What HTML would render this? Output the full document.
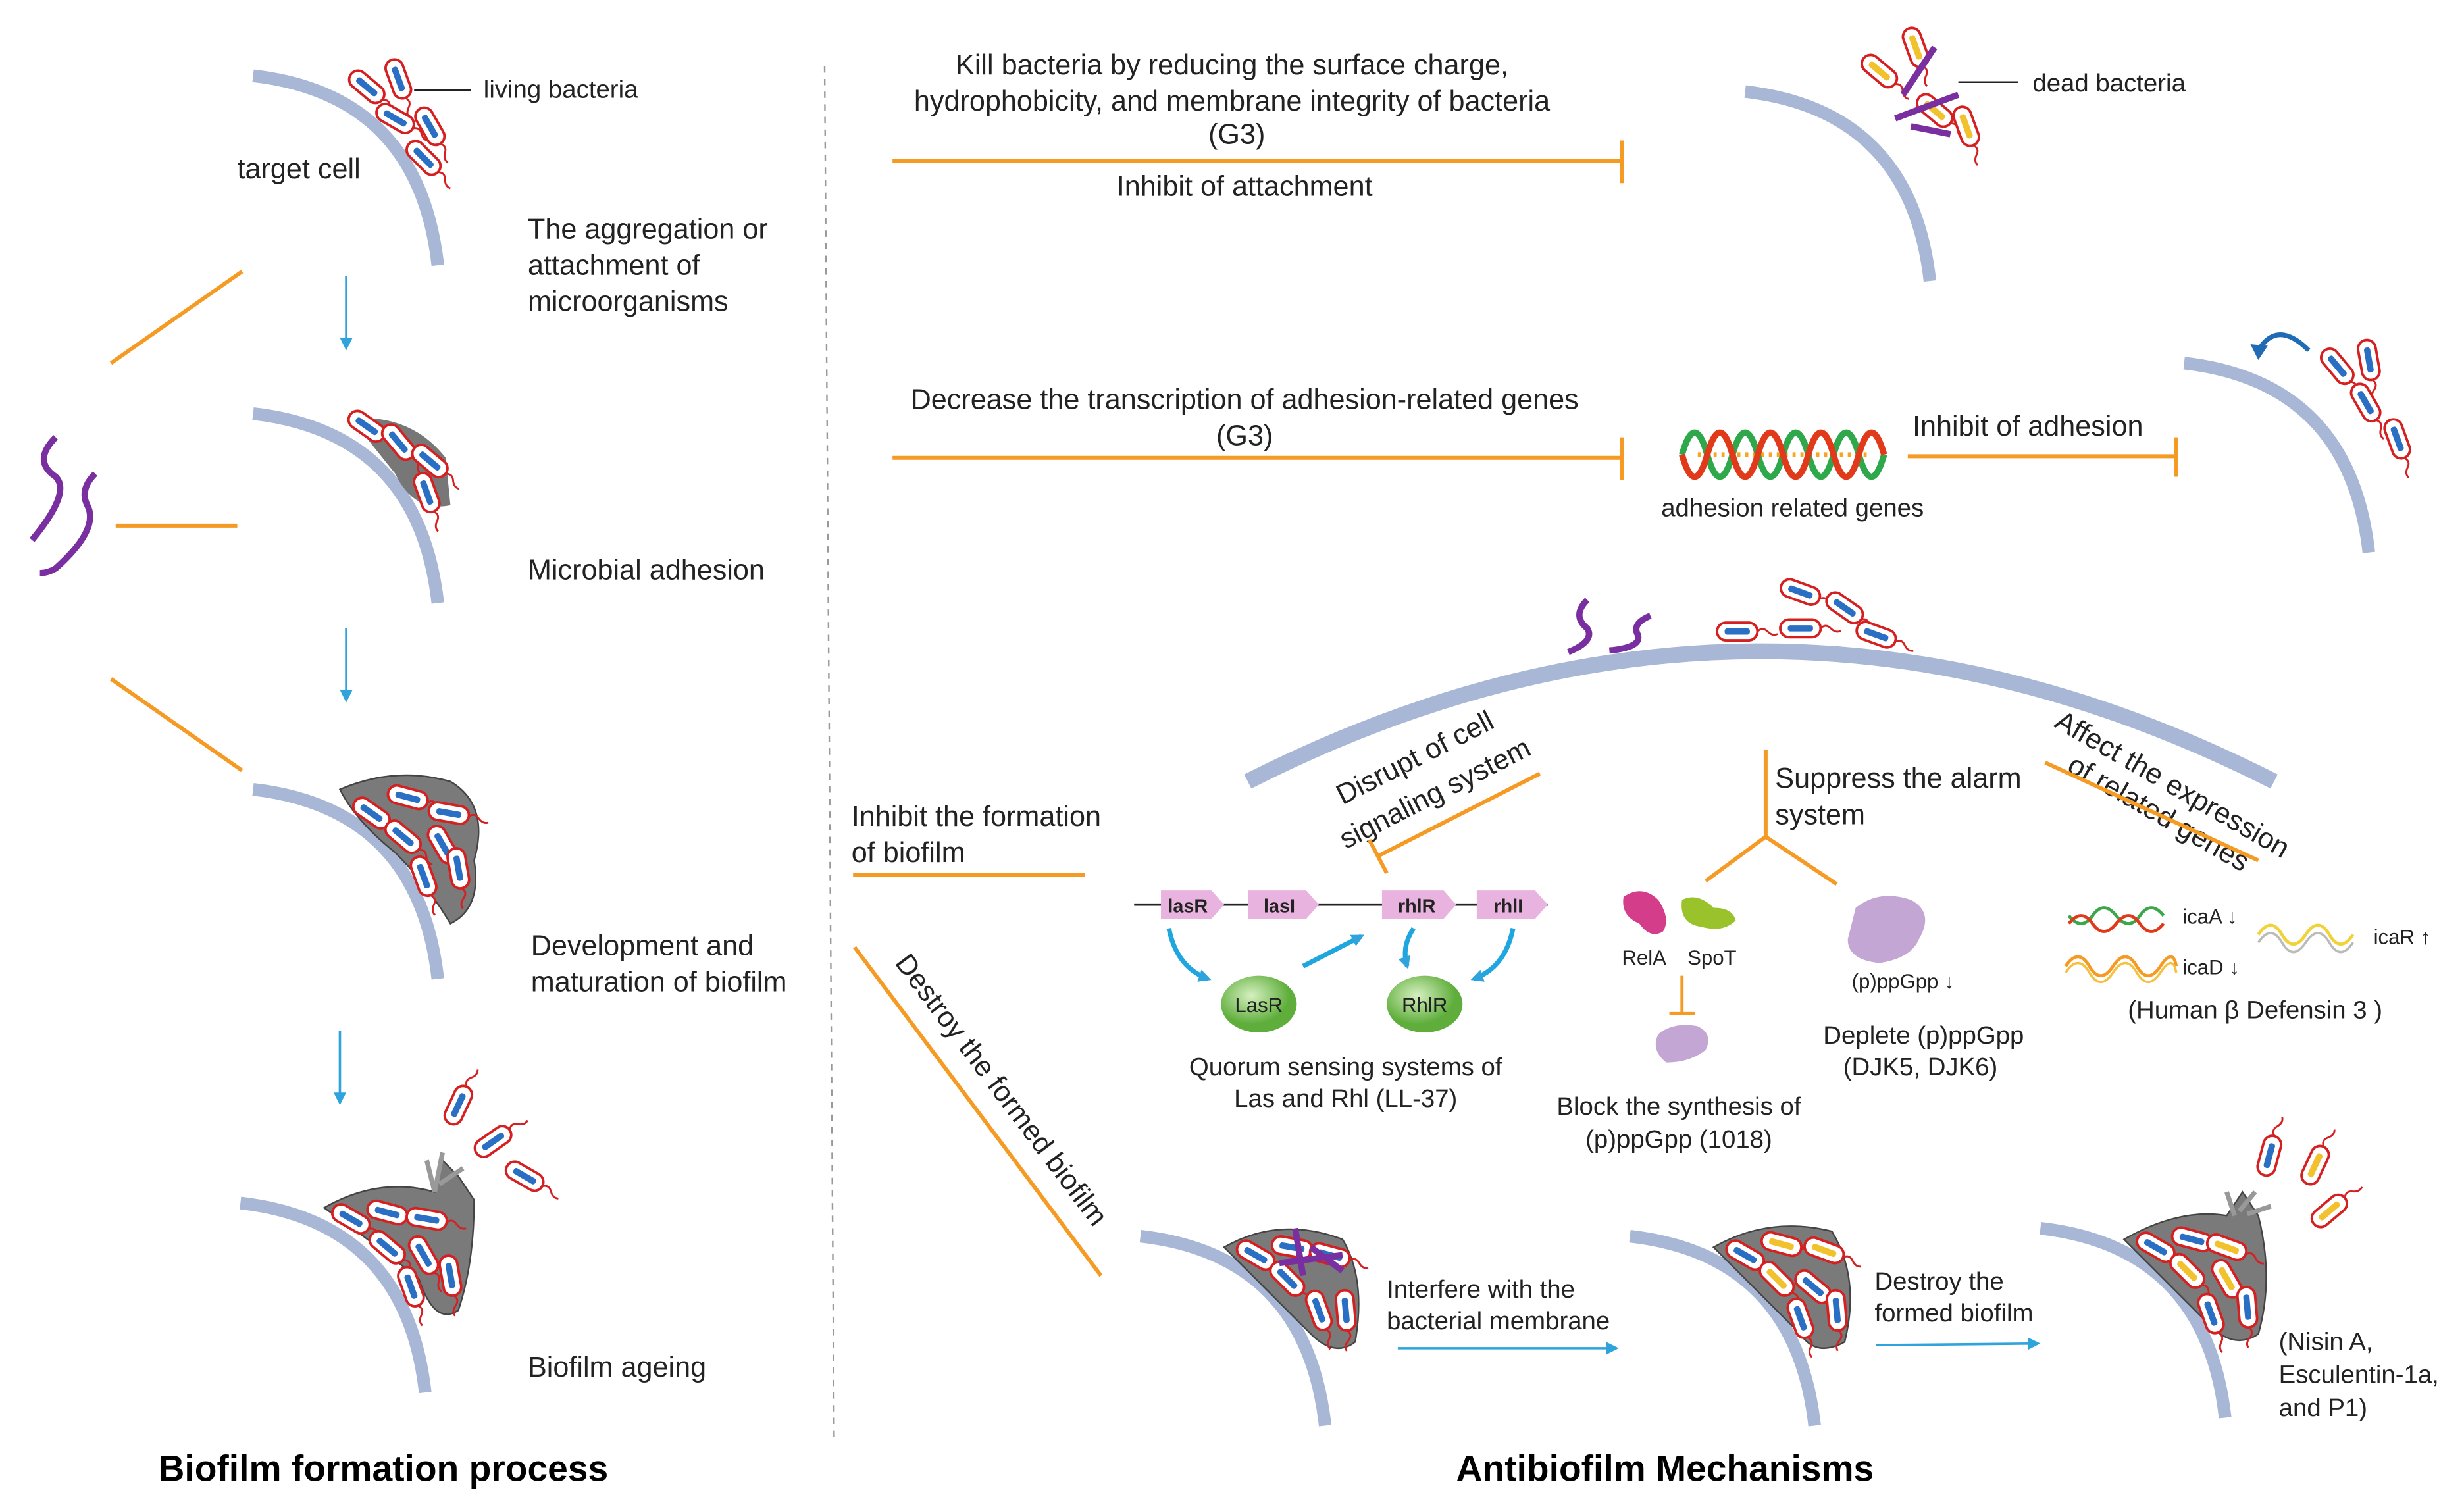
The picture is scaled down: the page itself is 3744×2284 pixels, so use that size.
<!DOCTYPE html>
<html><head><meta charset="utf-8">
<style>
html,body{margin:0;padding:0;background:#fff;}
svg{display:block;}
text{font-family:"Liberation Sans",Arial,sans-serif;fill:#222;}
</style></head>
<body>
<svg width="3744" height="2284" viewBox="0 0 1560 952" xmlns="http://www.w3.org/2000/svg">
<defs>
  <g id="bac"><g transform="scale(0.8)">
    <rect x="-16" y="-7" width="32" height="14" rx="7" fill="#fff" stroke="#d42020" stroke-width="2"/>
    <rect x="-10" y="-2.5" width="20" height="5" rx="2" fill="#2a6fc4"/>
    <path d="M16,0 q4,-4 8,0 t8,2" fill="none" stroke="#d42020" stroke-width="1.5"/>
  </g></g>
  <g id="bacy"><g transform="scale(0.8)">
    <rect x="-16" y="-7" width="32" height="14" rx="7" fill="#fff" stroke="#d42020" stroke-width="2"/>
    <rect x="-10" y="-2.5" width="20" height="5" rx="2" fill="#f2c12e"/>
    <path d="M16,0 q4,-4 8,0 t8,2" fill="none" stroke="#d42020" stroke-width="1.5"/>
  </g></g>
  <g id="arc">
    <path d="M0,0 Q105,12 117,120" fill="none" stroke="#a8b7d5" stroke-width="8"/>
  </g>
  <marker id="ab" markerWidth="8" markerHeight="8" refX="6" refY="4" orient="auto" markerUnits="userSpaceOnUse">
    <path d="M0,0 L8,4 L0,8 z" fill="#2ea3dc"/>
  </marker>
  <radialGradient id="gg" cx="40%" cy="35%"><stop offset="0" stop-color="#d6f0c0"/><stop offset="1" stop-color="#5fae3c"/></radialGradient>
</defs>

<line x1="522" y1="42" x2="528" y2="912" stroke="#999" stroke-width="1" stroke-dasharray="4,4"/>

<!-- LEFT column -->
<use href="#arc" x="160" y="48"/>
<use href="#bac" transform="translate(232,55) rotate(40)"/>
<use href="#bac" transform="translate(252,50) rotate(70)"/>
<use href="#bac" transform="translate(250,75) rotate(30)"/>
<use href="#bac" transform="translate(272,80) rotate(60)"/>
<use href="#bac" transform="translate(268,100) rotate(45)"/>
<line x1="262" y1="57" x2="298" y2="57" stroke="#222" stroke-width="1"/>
<text x="306" y="62" font-size="16">living  bacteria</text>
<text x="150" y="113" font-size="18">target cell</text>
<text x="334" y="151" font-size="18">The aggregation  or</text>
<text x="334" y="174" font-size="18">attachment of</text>
<text x="334" y="197" font-size="18">microorganisms</text>
<line x1="219" y1="175" x2="219" y2="220" stroke="#2ea3dc" stroke-width="1.5" marker-end="url(#ab)"/>

<use href="#arc" x="160" y="262"/>
<path d="M222,265 Q260,262 282,290 L285,320 Q262,325 250,300 Z" fill="#777"/>
<use href="#bac" transform="translate(232,270) rotate(35)"/>
<use href="#bac" transform="translate(252,280) rotate(50)"/>
<use href="#bac" transform="translate(272,292) rotate(40)"/>
<use href="#bac" transform="translate(270,312) rotate(70)"/>
<text x="334" y="367" font-size="18">Microbial adhesion</text>
<line x1="219" y1="398" x2="219" y2="443" stroke="#2ea3dc" stroke-width="1.5" marker-end="url(#ab)"/>

<use href="#arc" x="160" y="500"/>
<path d="M215,500 Q250,485 285,495 Q310,510 300,545 Q305,575 285,585 Q270,560 250,540 Q225,520 215,500 Z" fill="#7a7a7a" stroke="#444" stroke-width="1"/>
<use href="#bac" transform="translate(235,515) rotate(35)"/>
<use href="#bac" transform="translate(258,505) rotate(15)"/>
<use href="#bac" transform="translate(284,515) rotate(10)"/>
<use href="#bac" transform="translate(255,530) rotate(40)"/>
<use href="#bac" transform="translate(280,535) rotate(60)"/>
<use href="#bac" transform="translate(268,555) rotate(70)"/>
<use href="#bac" transform="translate(290,550) rotate(80)"/>
<text x="336" y="605" font-size="18">Development and</text>
<text x="336" y="628" font-size="18">maturation of biofilm</text>
<line x1="215" y1="653" x2="215" y2="698" stroke="#2ea3dc" stroke-width="1.5" marker-end="url(#ab)"/>

<use href="#arc" x="152" y="762"/>
<path d="M205,765 Q240,745 275,755 L280,735 L290,745 L300,760 Q300,800 290,830 Q275,840 265,810 Q240,790 205,765 Z" fill="#7a7a7a" stroke="#444" stroke-width="1"/>
<path d="M275,755 l-5,-20 m5,20 l5,-25 m-2,20 l15,-10" stroke="#999" stroke-width="3" fill="none"/>
<use href="#bac" transform="translate(222,772) rotate(30)"/>
<use href="#bac" transform="translate(245,768) rotate(15)"/>
<use href="#bac" transform="translate(270,772) rotate(10)"/>
<use href="#bac" transform="translate(245,790) rotate(40)"/>
<use href="#bac" transform="translate(268,795) rotate(60)"/>
<use href="#bac" transform="translate(260,815) rotate(70)"/>
<use href="#bac" transform="translate(285,808) rotate(80)"/>
<use href="#bac" transform="translate(290,700) rotate(-65)"/>
<use href="#bac" transform="translate(312,723) rotate(-35)"/>
<use href="#bac" transform="translate(332,745) rotate(30)"/>
<text x="334" y="872" font-size="18">Biofilm ageing</text>
<text x="100" y="938" font-size="23" font-weight="bold" style="fill:#000">Biofilm formation process</text>

<line x1="70" y1="230" x2="153" y2="172" stroke="#f59a23" stroke-width="2.5"/>
<line x1="73" y1="333" x2="150" y2="333" stroke="#f59a23" stroke-width="2.5"/>
<line x1="70" y1="430" x2="153" y2="488" stroke="#f59a23" stroke-width="2.5"/>
<path d="M35,277 q-15,15 0,25 q10,10 -15,40" fill="none" stroke="#7a2fa0" stroke-width="4"/>
<path d="M60,300 q-10,10 -5,20 q8,15 -20,40 q-5,3 -10,3" fill="none" stroke="#7a2fa0" stroke-width="4"/>

<!-- RIGHT row 1 -->
<text x="780" y="47" font-size="18" text-anchor="middle">Kill bacteria by reducing the surface charge,</text>
<text x="780" y="70" font-size="18" text-anchor="middle">hydrophobicity,  and membrane integrity of bacteria</text>
<text x="783" y="91" font-size="18" text-anchor="middle">(G3)</text>
<line x1="565" y1="102" x2="1027" y2="102" stroke="#f59a23" stroke-width="2.5"/>
<line x1="1027" y1="89" x2="1027" y2="116" stroke="#f59a23" stroke-width="2.5"/>
<text x="788" y="124" font-size="18" text-anchor="middle">Inhibit  of attachment</text>
<use href="#arc" x="1105" y="58"/>
<use href="#bacy" transform="translate(1190,45) rotate(40)"/>
<use href="#bacy" transform="translate(1213,30) rotate(70)"/>
<use href="#bacy" transform="translate(1225,70) rotate(40)"/>
<use href="#bacy" transform="translate(1245,80) rotate(70)"/>
<path d="M1205,60 l20,-30 M1200,75 l40,-15 M1210,80 l25,5" stroke="#7a2fa0" stroke-width="4" fill="none"/>
<line x1="1240" y1="52" x2="1278" y2="52" stroke="#222" stroke-width="1"/>
<text x="1287" y="58" font-size="16">dead bacteria</text>

<!-- row 2 -->
<text x="788" y="259" font-size="18" text-anchor="middle">Decrease the transcription of adhesion-related genes</text>
<text x="788" y="282" font-size="18" text-anchor="middle">(G3)</text>
<line x1="565" y1="290" x2="1027" y2="290" stroke="#f59a23" stroke-width="2.5"/>
<line x1="1027" y1="277" x2="1027" y2="304" stroke="#f59a23" stroke-width="2.5"/>
<path d="M1075,288 h110" stroke="#f5a623" stroke-width="3" stroke-dasharray="2,3"/>
<path d="M1065,288 q8,-28 16,0 t16,0 t16,0 t16,0 t16,0 t16,0 t16,0 t16,0" fill="none" stroke="#2ea84a" stroke-width="4"/>
<path d="M1065,288 q8,28 16,0 t16,0 t16,0 t16,0 t16,0 t16,0 t16,0 t16,0" fill="none" stroke="#e03a1a" stroke-width="4"/>
<text x="1135" y="327" font-size="16" text-anchor="middle">adhesion related genes</text>
<text x="1211" y="276" font-size="18">Inhibit  of adhesion</text>
<line x1="1208" y1="289" x2="1378" y2="289" stroke="#f59a23" stroke-width="2.5"/>
<line x1="1378" y1="277" x2="1378" y2="302" stroke="#f59a23" stroke-width="2.5"/>
<use href="#arc" x="1383" y="230"/>
<path d="M1462,222 q-20,-20 -32,0" fill="none" stroke="#1f6bb5" stroke-width="3"/>
<path d="M1425,218 l5,10 l6,-9 z" fill="#1f6bb5"/>
<use href="#bac" transform="translate(1480,232) rotate(50)"/>
<use href="#bac" transform="translate(1500,228) rotate(80)"/>
<use href="#bac" transform="translate(1498,255) rotate(60)"/>
<use href="#bac" transform="translate(1518,278) rotate(70)"/>

<!-- row 3 -->
<path d="M790,495 Q1115,330 1440,495" fill="none" stroke="#a8b7d5" stroke-width="10"/>
<path d="M1005,380 q-10,10 0,18 q5,8 -12,15" fill="none" stroke="#7a2fa0" stroke-width="4"/>
<path d="M1045,390 q-12,5 -8,12 q3,8 -18,10" fill="none" stroke="#7a2fa0" stroke-width="4"/>
<use href="#bac" transform="translate(1100,400) rotate(0)"/>
<use href="#bac" transform="translate(1140,375) rotate(20)"/>
<use href="#bac" transform="translate(1140,398) rotate(0)"/>
<use href="#bac" transform="translate(1168,385) rotate(35)"/>
<use href="#bac" transform="translate(1188,402) rotate(20)"/>

<text x="539" y="523" font-size="18">Inhibit  the formation</text>
<text x="539" y="546" font-size="18">of biofilm</text>
<line x1="540" y1="554" x2="687" y2="554" stroke="#f59a23" stroke-width="2.5"/>
<line x1="541" y1="600" x2="697" y2="808" stroke="#f59a23" stroke-width="2.5"/>
<text transform="translate(566,610) rotate(53)" font-size="18">Destroy the formed biofilm</text>

<text transform="translate(852,538) rotate(-27)" font-size="18">signaling system</text>
<text transform="translate(850,510) rotate(-27)" font-size="18">Disrupt of cell</text>
<line x1="975" y1="490" x2="873" y2="542" stroke="#f59a23" stroke-width="2.5"/>
<line x1="867" y1="532" x2="878" y2="553" stroke="#f59a23" stroke-width="2.5"/>

<line x1="718" y1="573" x2="980" y2="573" stroke="#222" stroke-width="1.5"/>
<path d="M735,564 h32 l8,9 l-8,9 h-32 z" fill="#e9b3df"/>
<path d="M790,564 h37 l8,9 l-8,9 h-37 z" fill="#e9b3df"/>
<path d="M875,564 h39 l8,9 l-8,9 h-39 z" fill="#e9b3df"/>
<path d="M935,564 h37 l8,9 l-8,9 h-37 z" fill="#e9b3df"/>
<text x="752" y="578" font-size="12" text-anchor="middle" font-weight="bold">lasR</text>
<text x="810" y="578" font-size="12" text-anchor="middle" font-weight="bold">lasI</text>
<text x="897" y="578" font-size="12" text-anchor="middle" font-weight="bold">rhlR</text>
<text x="955" y="578" font-size="12" text-anchor="middle" font-weight="bold">rhlI</text>
<ellipse cx="797" cy="636" rx="24" ry="18" fill="url(#gg)"/>
<ellipse cx="902" cy="636" rx="24" ry="18" fill="url(#gg)"/>
<text x="797" y="641" font-size="13" text-anchor="middle">LasR</text>
<text x="902" y="641" font-size="13" text-anchor="middle">RhlR</text>
<path d="M740,588 q5,25 25,32" fill="none" stroke="#1fa6df" stroke-width="3" marker-end="url(#ab)"/>
<line x1="825" y1="612" x2="862" y2="593" stroke="#1fa6df" stroke-width="3" marker-end="url(#ab)"/>
<path d="M895,588 q-8,12 -4,24" fill="none" stroke="#1fa6df" stroke-width="3" marker-end="url(#ab)"/>
<path d="M958,588 q-5,25 -25,32" fill="none" stroke="#1fa6df" stroke-width="3" marker-end="url(#ab)"/>
<text x="852" y="681" font-size="16" text-anchor="middle">Quorum  sensing systems of</text>
<text x="852" y="701" font-size="16" text-anchor="middle">Las and Rhl (LL-37)</text>

<line x1="1118" y1="475" x2="1118" y2="530" stroke="#f59a23" stroke-width="2.5"/>
<line x1="1118" y1="530" x2="1080" y2="558" stroke="#f59a23" stroke-width="2.5"/>
<line x1="1118" y1="530" x2="1163" y2="560" stroke="#f59a23" stroke-width="2.5"/>
<text x="1124" y="499" font-size="18">Suppress the alarm</text>
<text x="1124" y="522" font-size="18">system</text>
<path d="M1028,568 q12,-8 22,2 q8,12 3,20 q-8,5 -15,-5 q-12,-5 -10,-17 z" fill="#d43d8a"/>
<path d="M1065,570 q10,-5 20,5 q12,0 14,8 q-8,8 -22,4 q-14,-2 -12,-17 z" fill="#9ac22a"/>
<text x="1041" y="611" font-size="13" text-anchor="middle">RelA</text>
<text x="1084" y="611" font-size="13" text-anchor="middle">SpoT</text>
<path d="M1175,575 q15,-12 35,-5 q15,8 5,25 q-5,12 -25,15 q-20,-2 -20,-15 z" fill="#c3a6d4"/>
<text x="1205" y="626" font-size="13" text-anchor="middle">(p)ppGpp ↓</text>
<line x1="1065" y1="618" x2="1065" y2="642" stroke="#f59a23" stroke-width="2"/>
<line x1="1057" y1="642" x2="1073" y2="642" stroke="#f59a23" stroke-width="2"/>
<path d="M1050,655 q10,-8 25,-5 q10,5 5,15 q-10,8 -25,8 q-10,-8 -5,-18 z" fill="#c3a6d4"/>
<text x="1218" y="661" font-size="16" text-anchor="middle">Deplete  (p)ppGpp</text>
<text x="1216" y="681" font-size="16" text-anchor="middle">(DJK5,  DJK6)</text>
<text x="1063" y="706" font-size="16" text-anchor="middle">Block the synthesis of</text>
<text x="1063" y="727" font-size="16" text-anchor="middle">(p)ppGpp   (1018)</text>

<text transform="translate(1300,460) rotate(30)" font-size="18">Affect the expression</text>
<text transform="translate(1308,488) rotate(30)" font-size="18">of related genes</text>
<line x1="1295" y1="483" x2="1430" y2="545" stroke="#f59a23" stroke-width="2.5"/>
<path d="M1310,580 q8,10 15,0 t15,0 t15,0 t15,0" fill="none" stroke="#3aa84a" stroke-width="2"/>
<path d="M1310,585 q8,-10 15,0 t15,0 t15,0 t15,0" fill="none" stroke="#e03a1a" stroke-width="2"/>
<text x="1382" y="585" font-size="13">icaA ↓</text>
<path d="M1430,592 q8,-12 15,0 t15,0 t15,0 t15,0" fill="none" stroke="#f2d23a" stroke-width="2"/>
<path d="M1430,597 q8,-12 15,0 t15,0 t15,0 t15,0" fill="none" stroke="#bbb" stroke-width="1.5"/>
<text x="1503" y="598" font-size="13">icaR ↑</text>
<path d="M1308,612 q8,-12 15,0 t15,0 t15,0 t15,0 t10,0" fill="none" stroke="#f59a23" stroke-width="2"/>
<path d="M1308,616 q8,-12 15,0 t15,0 t15,0 t15,0 t10,0" fill="none" stroke="#f5c040" stroke-width="1.5"/>
<text x="1382" y="617" font-size="13">icaD ↓</text>
<text x="1428" y="645" font-size="16" text-anchor="middle">(Human  β  Defensin  3 )</text>

<!-- bottom row -->
<use href="#arc" x="722" y="783"/>
<path d="M775,790 Q810,770 850,785 Q865,810 858,850 Q845,860 830,845 Q800,815 775,790 Z" fill="#7a7a7a" stroke="#444"/>
<use href="#bac" transform="translate(795,795) rotate(30)"/>
<use href="#bac" transform="translate(818,790) rotate(10)"/>
<use href="#bac" transform="translate(842,795) rotate(15)"/>
<use href="#bac" transform="translate(815,810) rotate(45)"/>
<use href="#bac" transform="translate(835,830) rotate(70)"/>
<use href="#bac" transform="translate(852,830) rotate(85)"/>
<path d="M820,778 l5,30 M810,800 l40,-5 M830,790 l20,15" stroke="#7a2fa0" stroke-width="4" fill="none"/>
<text x="878" y="822" font-size="16">Interfere  with the</text>
<text x="878" y="842" font-size="16">bacterial membrane</text>
<line x1="885" y1="854" x2="1023" y2="854" stroke="#2ea3dc" stroke-width="1.5" marker-end="url(#ab)"/>

<use href="#arc" x="1032" y="783"/>
<path d="M1085,790 Q1120,770 1160,780 Q1178,810 1168,850 Q1150,860 1140,845 Q1110,815 1085,790 Z" fill="#7a7a7a" stroke="#444"/>
<use href="#bac" transform="translate(1105,795) rotate(30)"/>
<use href="#bacy" transform="translate(1128,788) rotate(15)"/>
<use href="#bacy" transform="translate(1155,792) rotate(20)"/>
<use href="#bacy" transform="translate(1125,810) rotate(45)"/>
<use href="#bac" transform="translate(1148,815) rotate(40)"/>
<use href="#bac" transform="translate(1140,835) rotate(70)"/>
<use href="#bac" transform="translate(1163,830) rotate(85)"/>
<text x="1187" y="817" font-size="16">Destroy the</text>
<text x="1187" y="837" font-size="16">formed  biofilm</text>
<line x1="1188" y1="852" x2="1290" y2="851" stroke="#2ea3dc" stroke-width="1.5" marker-end="url(#ab)"/>

<use href="#arc" x="1292" y="778"/>
<path d="M1345,785 Q1380,765 1410,770 L1420,755 L1430,770 Q1440,810 1430,845 Q1415,855 1400,840 Q1370,810 1345,785 Z" fill="#7a7a7a" stroke="#444"/>
<path d="M1415,770 l-5,-15 m8,12 l10,-12 m-5,14 l15,-5" stroke="#999" stroke-width="3" fill="none"/>
<use href="#bac" transform="translate(1365,790) rotate(30)"/>
<use href="#bac" transform="translate(1388,785) rotate(15)"/>
<use href="#bacy" transform="translate(1410,790) rotate(20)"/>
<use href="#bacy" transform="translate(1385,805) rotate(45)"/>
<use href="#bacy" transform="translate(1410,810) rotate(60)"/>
<use href="#bac" transform="translate(1400,832) rotate(70)"/>
<use href="#bac" transform="translate(1423,828) rotate(85)"/>
<use href="#bac" transform="translate(1437,732) rotate(-75)"/>
<use href="#bacy" transform="translate(1466,738) rotate(-65)"/>
<use href="#bacy" transform="translate(1475,767) rotate(-40)"/>
<text x="1443" y="855" font-size="16">(Nisin  A,</text>
<text x="1443" y="876" font-size="16">Esculentin-1a,</text>
<text x="1443" y="897" font-size="16">and  P1)</text>

<text x="922" y="938" font-size="23" font-weight="bold" style="fill:#000">Antibiofilm Mechanisms</text>
</svg>
</body></html>
